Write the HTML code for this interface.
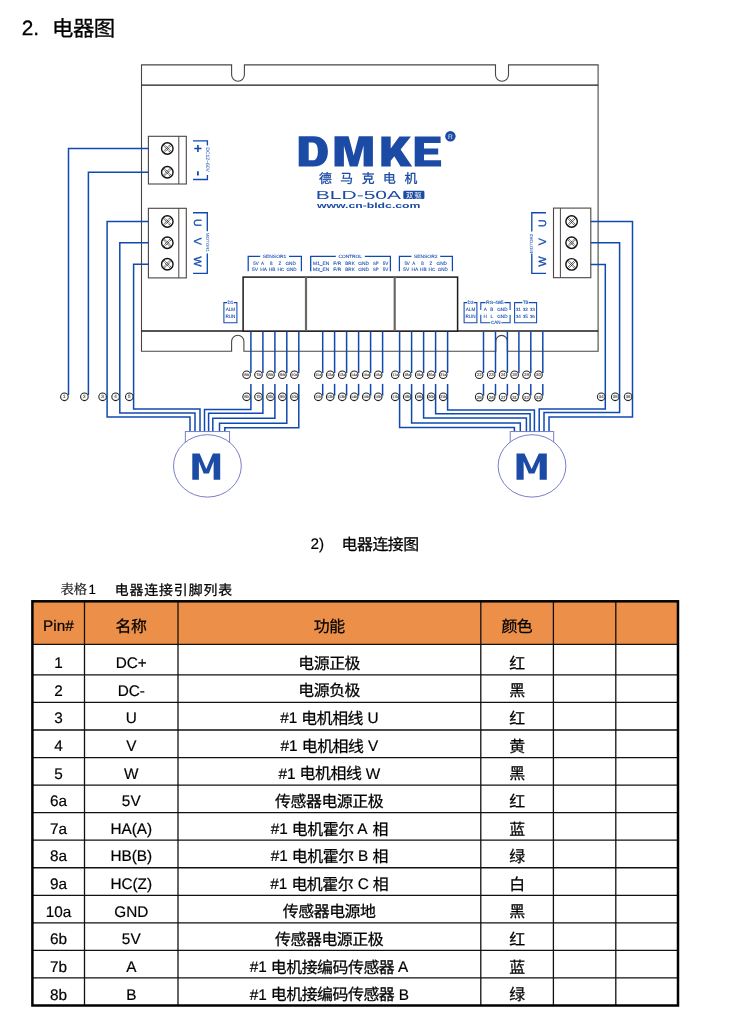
<!DOCTYPE html>
<html lang="zh"><head><meta charset="utf-8"><title>电器图</title>
<style>
html,body{margin:0;padding:0;background:#fff}
body{width:750px;height:1024px;overflow:hidden;font-family:"Liberation Sans","Noto Sans CJK SC",sans-serif}
svg{display:block;position:absolute;left:0;top:0;will-change:transform}
svg text{font-family:"Liberation Sans","Noto Sans CJK SC",sans-serif;text-rendering:geometricPrecision}
</style></head><body>
<svg width="750" height="1024" viewBox="0 0 750 1024">
<rect width="750" height="1024" fill="#fff"/>
<text x="21.80" y="34.70" font-size="20.8" fill="#000" stroke="#000" stroke-width="0.3" xml:space="preserve">2.</text>
<text x="52.00" y="35.60" font-size="21.4" letter-spacing="-0.5" fill="#000" stroke="#000" stroke-width="0.3">电器图</text>
<path d="M141.5 64.9 H231.6 V74.8 A6.4 6.4 0 0 0 244.4 74.8 V64.9 H495.5 V74.7 A6.5 6.5 0 0 0 508.5 74.7 V64.9 H598.1 V351.2 H507.4 V341.2 A5.8 5.8 0 0 0 495.8 341.2 V351.2 H243.9 V341.4 A6.15 6.15 0 0 0 231.6 341.4 V351.2 H141.5 Z" fill="none" stroke="#4b4542" stroke-width="1.1" stroke-linejoin="miter"/>
<line x1="141.50" y1="85.20" x2="598.10" y2="85.20" stroke="#1c1a1a" stroke-width="1.2" />
<line x1="141.50" y1="331.10" x2="598.10" y2="331.10" stroke="#1c1a1a" stroke-width="1.5" />
<rect x="148.4" y="136.3" width="37.9" height="47.7" fill="#fff" stroke="#4b4542" stroke-width="1.1"/>
<line x1="178.80" y1="136.30" x2="178.80" y2="184.00" stroke="#4b4542" stroke-width="1.0" />
<circle cx="167.3" cy="148.5" r="5.75" fill="#fff" stroke="#111" stroke-width="1.4"/>
<path d="M163.89 144.11 L171.69 151.91M162.91 145.09 L170.71 152.89M162.91 151.91 L170.71 144.11M163.89 152.89 L171.69 145.09" stroke="#222" stroke-width="0.75" fill="none" stroke-dasharray="2.4 0.4"/>
<circle cx="167.3" cy="172.2" r="5.75" fill="#fff" stroke="#111" stroke-width="1.4"/>
<path d="M163.89 167.81 L171.69 175.61M162.91 168.79 L170.71 176.59M162.91 175.61 L170.71 167.81M163.89 176.59 L171.69 168.79" stroke="#222" stroke-width="0.75" fill="none" stroke-dasharray="2.4 0.4"/>
<rect x="148.4" y="208.3" width="37.9" height="69.6" fill="#fff" stroke="#4b4542" stroke-width="1.1"/>
<line x1="178.80" y1="208.30" x2="178.80" y2="277.90" stroke="#4b4542" stroke-width="1.0" />
<circle cx="167.3" cy="221.5" r="5.75" fill="#fff" stroke="#111" stroke-width="1.4"/>
<path d="M163.89 217.11 L171.69 224.91M162.91 218.09 L170.71 225.89M162.91 224.91 L170.71 217.11M163.89 225.89 L171.69 218.09" stroke="#222" stroke-width="0.75" fill="none" stroke-dasharray="2.4 0.4"/>
<circle cx="167.3" cy="242.8" r="5.75" fill="#fff" stroke="#111" stroke-width="1.4"/>
<path d="M163.89 238.41 L171.69 246.21M162.91 239.39 L170.71 247.19M162.91 246.21 L170.71 238.41M163.89 247.19 L171.69 239.39" stroke="#222" stroke-width="0.75" fill="none" stroke-dasharray="2.4 0.4"/>
<circle cx="167.3" cy="264.2" r="5.75" fill="#fff" stroke="#111" stroke-width="1.4"/>
<path d="M163.89 259.81 L171.69 267.61M162.91 260.79 L170.71 268.59M162.91 267.61 L170.71 259.81M163.89 268.59 L171.69 260.79" stroke="#222" stroke-width="0.75" fill="none" stroke-dasharray="2.4 0.4"/>
<rect x="553.5" y="208.1" width="37.3" height="69.6" fill="#fff" stroke="#4b4542" stroke-width="1.1"/>
<line x1="560.40" y1="208.10" x2="560.40" y2="277.70" stroke="#4b4542" stroke-width="1.0" />
<circle cx="571.6" cy="221.5" r="5.75" fill="#fff" stroke="#111" stroke-width="1.4"/>
<path d="M568.19 217.11 L575.99 224.91M567.21 218.09 L575.01 225.89M567.21 224.91 L575.01 217.11M568.19 225.89 L575.99 218.09" stroke="#222" stroke-width="0.75" fill="none" stroke-dasharray="2.4 0.4"/>
<circle cx="571.6" cy="242.8" r="5.75" fill="#fff" stroke="#111" stroke-width="1.4"/>
<path d="M568.19 238.41 L575.99 246.21M567.21 239.39 L575.01 247.19M567.21 246.21 L575.01 238.41M568.19 247.19 L575.99 239.39" stroke="#222" stroke-width="0.75" fill="none" stroke-dasharray="2.4 0.4"/>
<circle cx="571.6" cy="264.4" r="5.75" fill="#fff" stroke="#111" stroke-width="1.4"/>
<path d="M568.19 260.01 L575.99 267.81M567.21 260.99 L575.01 268.79M567.21 267.81 L575.01 260.01M568.19 268.79 L575.99 260.99" stroke="#222" stroke-width="0.75" fill="none" stroke-dasharray="2.4 0.4"/>
<path d="M193.0 140.8 H207.4 V145.6 M207.4 175.0 V179.5 H193.0" fill="none" stroke="#1049b0" stroke-width="1.35" />
<path d="M193.0 212.7 H207.3 V231.2 M207.3 253.6 V273.4 H193.0" fill="none" stroke="#1049b0" stroke-width="1.35" />
<path d="M546 212.7 H531.8 V231.4 M531.8 253.6 V273.4 H546" fill="none" stroke="#1049b0" stroke-width="1.35" />
<path d="M194.3 148.5 H201.5 M197.9 145.1 V151.9" fill="none" stroke="#1049b0" stroke-width="1.6" />
<path d="M197.9 171.3 V175.4" fill="none" stroke="#1049b0" stroke-width="1.8" />
<text transform="translate(205.50 159.60) rotate(90)" text-anchor="middle" font-size="5.0" fill="#1049b0" >DC12~60V</text>
<text transform="translate(193.50 222.90) rotate(90)" text-anchor="middle" font-size="10.6" fill="#1049b0" stroke="#1049b0" stroke-width="0.3">U</text>
<text transform="translate(193.50 241.40) rotate(90)" text-anchor="middle" font-size="10.6" fill="#1049b0" stroke="#1049b0" stroke-width="0.3">V</text>
<text transform="translate(193.50 261.50) rotate(90)" text-anchor="middle" font-size="10.6" fill="#1049b0" stroke="#1049b0" stroke-width="0.3">W</text>
<text transform="translate(205.60 242.40) rotate(90)" text-anchor="middle" font-size="4.5" fill="#1049b0" >MOTOR1</text>
<text transform="translate(545.50 223.10) rotate(-90)" text-anchor="middle" font-size="10.6" fill="#1049b0" stroke="#1049b0" stroke-width="0.3">U</text>
<text transform="translate(545.50 241.60) rotate(-90)" text-anchor="middle" font-size="10.6" fill="#1049b0" stroke="#1049b0" stroke-width="0.3">V</text>
<text transform="translate(545.50 261.60) rotate(-90)" text-anchor="middle" font-size="10.6" fill="#1049b0" stroke="#1049b0" stroke-width="0.3">W</text>
<text transform="translate(533.30 243.40) rotate(-90)" text-anchor="middle" font-size="4.5" fill="#1049b0" >MOTOR2</text>
<path fill="#1b4ba5" fill-rule="evenodd" d="M298.7 136.3H313.5C323 136.3 327.9 142.5 327.9 151.45C327.9 160.4 323 166.6 313.5 166.6H298.7ZM308.7 142.6V160.3H312.5C316.5 160.3 317.9 156.5 317.9 151.45C317.9 146.4 316.5 142.6 312.5 142.6Z"/>
<path fill="#1b4ba5" d="M334.5 166.5V136.3H348.6L353.7 155.5L358.8 136.3H372.9V166.5H363.6V145.5L357.6 166.5H349.8L343.9 145.5V166.5Z"/>
<path fill="#1b4ba5" d="M381.3 136.5H390.7V148.6L399.4 136.5H411L400.6 149.6L412.2 166.6H400.6L394.3 156.3L390.7 160.7V166.6H381.3Z"/>
<path fill="#1b4ba5" d="M414.7 136.5H440.6V142.9H424V148.5H438.2V154.5H424V160.3H441.1V166.6H414.7Z"/>
<circle cx="450.4" cy="136.3" r="5.2" fill="#1b4ba5"/>
<text x="450.5" y="138.7" font-size="6.6" fill="#e4e8f4" text-anchor="middle">R</text>
<text x="319.00" y="182.90" font-size="12.8" letter-spacing="8.55" fill="#1b4ba5" stroke="#1b4ba5" stroke-width="0.3">德马克电机</text>
<text x="315.8" y="198.9" font-size="11.8" fill="#1b4ba5" textLength="85.2" lengthAdjust="spacingAndGlyphs">BLD-50A</text>
<rect x="403.3" y="190.7" width="21.1" height="8.3" rx="1.3" fill="#1b4ba5"/>
<text x="405.90" y="197.60" font-size="7.4" letter-spacing="1" fill="#fff">双驱</text>
<text x="316.9" y="207.7" font-size="7.6" font-weight="bold" fill="#1b4ba5" textLength="103.6" lengthAdjust="spacingAndGlyphs">www.cn-bldc.com</text>
<rect x="243.1" y="277.1" width="214.5" height="54" fill="#fff" stroke="#1c1a1a" stroke-width="1.5"/>
<line x1="306.00" y1="277.10" x2="306.00" y2="331.10" stroke="#6e6865" stroke-width="2.2" />
<line x1="394.70" y1="277.10" x2="394.70" y2="331.10" stroke="#6e6865" stroke-width="2.2" />
<path d="M248.2 271.2 V256.3 H260.2 M289.0 256.3 H301.4 V271.2" fill="none" stroke="#1049b0" stroke-width="1.25" />
<text x="262.80" y="257.90" font-size="4.7" fill="#1049b0" stroke="#1049b0" stroke-width="0.08" textLength="23.4" lengthAdjust="spacingAndGlyphs">SENSOR1</text>
<text x="253.20" y="264.85" font-size="4.6" fill="#1049b0" stroke="#1049b0" stroke-width="0.08" textLength="5.4" lengthAdjust="spacingAndGlyphs">5V</text>
<text x="261.00" y="264.85" font-size="4.6" fill="#1049b0" stroke="#1049b0" stroke-width="0.08" textLength="3.0" lengthAdjust="spacingAndGlyphs">A</text>
<text x="270.00" y="264.85" font-size="4.6" fill="#1049b0" stroke="#1049b0" stroke-width="0.08" textLength="2.6" lengthAdjust="spacingAndGlyphs">B</text>
<text x="278.40" y="264.85" font-size="4.6" fill="#1049b0" stroke="#1049b0" stroke-width="0.08" textLength="2.6" lengthAdjust="spacingAndGlyphs">Z</text>
<text x="285.40" y="264.85" font-size="4.6" fill="#1049b0" stroke="#1049b0" stroke-width="0.08" textLength="10.4" lengthAdjust="spacingAndGlyphs">GND</text>
<text x="252.00" y="271.25" font-size="4.6" fill="#1049b0" stroke="#1049b0" stroke-width="0.08" textLength="6.0" lengthAdjust="spacingAndGlyphs">5V</text>
<text x="260.20" y="271.25" font-size="4.6" fill="#1049b0" stroke="#1049b0" stroke-width="0.08" textLength="6.8" lengthAdjust="spacingAndGlyphs">HA</text>
<text x="268.80" y="271.25" font-size="4.6" fill="#1049b0" stroke="#1049b0" stroke-width="0.08" textLength="6.6" lengthAdjust="spacingAndGlyphs">HB</text>
<text x="277.40" y="271.25" font-size="4.6" fill="#1049b0" stroke="#1049b0" stroke-width="0.08" textLength="6.8" lengthAdjust="spacingAndGlyphs">HC</text>
<text x="286.60" y="271.25" font-size="4.6" fill="#1049b0" stroke="#1049b0" stroke-width="0.08" textLength="10.0" lengthAdjust="spacingAndGlyphs">GND</text>
<path d="M310.7 271.2 V256.3 H335.8 M364.8 256.3 H390.4 V271.2" fill="none" stroke="#1049b0" stroke-width="1.25" />
<text x="338.40" y="257.90" font-size="4.7" fill="#1049b0" stroke="#1049b0" stroke-width="0.08" textLength="23.6" lengthAdjust="spacingAndGlyphs">CONTROL</text>
<text x="313.10" y="264.85" font-size="4.6" fill="#1049b0" stroke="#1049b0" stroke-width="0.08" textLength="16.2" lengthAdjust="spacingAndGlyphs">M1_EN</text>
<text x="333.30" y="264.85" font-size="4.6" fill="#1049b0" stroke="#1049b0" stroke-width="0.08" textLength="8.0" lengthAdjust="spacingAndGlyphs">F/R</text>
<text x="345.30" y="264.85" font-size="4.6" fill="#1049b0" stroke="#1049b0" stroke-width="0.08" textLength="9.4" lengthAdjust="spacingAndGlyphs">BRK</text>
<text x="358.30" y="264.85" font-size="4.6" fill="#1049b0" stroke="#1049b0" stroke-width="0.08" textLength="10.7" lengthAdjust="spacingAndGlyphs">GND</text>
<text x="373.00" y="264.85" font-size="4.6" fill="#1049b0" stroke="#1049b0" stroke-width="0.08" textLength="5.7" lengthAdjust="spacingAndGlyphs">SP</text>
<text x="382.70" y="264.85" font-size="4.6" fill="#1049b0" stroke="#1049b0" stroke-width="0.08" textLength="5.6" lengthAdjust="spacingAndGlyphs">5V</text>
<text x="313.10" y="271.25" font-size="4.6" fill="#1049b0" stroke="#1049b0" stroke-width="0.08" textLength="16.2" lengthAdjust="spacingAndGlyphs">M2_EN</text>
<text x="333.30" y="271.25" font-size="4.6" fill="#1049b0" stroke="#1049b0" stroke-width="0.08" textLength="8.0" lengthAdjust="spacingAndGlyphs">F/R</text>
<text x="345.30" y="271.25" font-size="4.6" fill="#1049b0" stroke="#1049b0" stroke-width="0.08" textLength="9.4" lengthAdjust="spacingAndGlyphs">BRK</text>
<text x="358.30" y="271.25" font-size="4.6" fill="#1049b0" stroke="#1049b0" stroke-width="0.08" textLength="10.7" lengthAdjust="spacingAndGlyphs">GND</text>
<text x="373.00" y="271.25" font-size="4.6" fill="#1049b0" stroke="#1049b0" stroke-width="0.08" textLength="5.7" lengthAdjust="spacingAndGlyphs">SP</text>
<text x="382.70" y="271.25" font-size="4.6" fill="#1049b0" stroke="#1049b0" stroke-width="0.08" textLength="5.6" lengthAdjust="spacingAndGlyphs">5V</text>
<path d="M399.4 271.2 V256.3 H411.4 M440.2 256.3 H452.4 V271.2" fill="none" stroke="#1049b0" stroke-width="1.25" />
<text x="414.00" y="257.90" font-size="4.7" fill="#1049b0" stroke="#1049b0" stroke-width="0.08" textLength="23.4" lengthAdjust="spacingAndGlyphs">SENSOR2</text>
<text x="404.40" y="264.85" font-size="4.6" fill="#1049b0" stroke="#1049b0" stroke-width="0.08" textLength="5.4" lengthAdjust="spacingAndGlyphs">5V</text>
<text x="412.20" y="264.85" font-size="4.6" fill="#1049b0" stroke="#1049b0" stroke-width="0.08" textLength="3.0" lengthAdjust="spacingAndGlyphs">A</text>
<text x="421.20" y="264.85" font-size="4.6" fill="#1049b0" stroke="#1049b0" stroke-width="0.08" textLength="2.6" lengthAdjust="spacingAndGlyphs">B</text>
<text x="429.60" y="264.85" font-size="4.6" fill="#1049b0" stroke="#1049b0" stroke-width="0.08" textLength="2.6" lengthAdjust="spacingAndGlyphs">Z</text>
<text x="436.60" y="264.85" font-size="4.6" fill="#1049b0" stroke="#1049b0" stroke-width="0.08" textLength="10.4" lengthAdjust="spacingAndGlyphs">GND</text>
<text x="403.20" y="271.25" font-size="4.6" fill="#1049b0" stroke="#1049b0" stroke-width="0.08" textLength="6.0" lengthAdjust="spacingAndGlyphs">5V</text>
<text x="411.40" y="271.25" font-size="4.6" fill="#1049b0" stroke="#1049b0" stroke-width="0.08" textLength="6.8" lengthAdjust="spacingAndGlyphs">HA</text>
<text x="420.00" y="271.25" font-size="4.6" fill="#1049b0" stroke="#1049b0" stroke-width="0.08" textLength="6.6" lengthAdjust="spacingAndGlyphs">HB</text>
<text x="428.60" y="271.25" font-size="4.6" fill="#1049b0" stroke="#1049b0" stroke-width="0.08" textLength="6.8" lengthAdjust="spacingAndGlyphs">HC</text>
<text x="437.80" y="271.25" font-size="4.6" fill="#1049b0" stroke="#1049b0" stroke-width="0.08" textLength="10.0" lengthAdjust="spacingAndGlyphs">GND</text>
<path d="M227.0 302.6 H223.9 V322.7 H236.9 V302.6 H233.8" fill="none" stroke="#1049b0" stroke-width="1.05" />
<text x="227.46" y="304.20" font-size="4.6" fill="#1049b0" stroke="#1049b0" stroke-width="0.08" textLength="5.9" lengthAdjust="spacingAndGlyphs">D1</text>
<text x="230.40" y="310.85" font-size="4.6" text-anchor="middle" fill="#1049b0" stroke="#1049b0" stroke-width="0.08">ALM</text>
<text x="230.40" y="317.55" font-size="4.6" text-anchor="middle" fill="#1049b0" stroke="#1049b0" stroke-width="0.08">RUN</text>
<path d="M467.1 302.6 H464.1 V322.7 H476.9 V302.6 H473.9" fill="none" stroke="#1049b0" stroke-width="1.05" />
<text x="467.56" y="304.20" font-size="4.6" fill="#1049b0" stroke="#1049b0" stroke-width="0.08" textLength="5.9" lengthAdjust="spacingAndGlyphs">D2</text>
<text x="470.50" y="310.85" font-size="4.6" text-anchor="middle" fill="#1049b0" stroke="#1049b0" stroke-width="0.08">ALM</text>
<text x="470.50" y="317.55" font-size="4.6" text-anchor="middle" fill="#1049b0" stroke="#1049b0" stroke-width="0.08">RUN</text>
<path d="M480.8 309.9 V302.6 H485.5 M504.5 302.6 H510.1 V309.9" fill="none" stroke="#1049b0" stroke-width="1.05" />
<path d="M480.8 314.7 V322.7 H490.3 M501.3 322.7 H510.1 V314.7" fill="none" stroke="#1049b0" stroke-width="1.05" />
<text x="490.90" y="324.30" font-size="4.6" fill="#1049b0" stroke="#1049b0" stroke-width="0.08" textLength="9.6" lengthAdjust="spacingAndGlyphs">CAN</text>
<text x="486.10" y="304.20" font-size="4.6" fill="#1049b0" stroke="#1049b0" stroke-width="0.08" textLength="17.6" lengthAdjust="spacingAndGlyphs">RS-485</text>
<text x="485.30" y="310.85" font-size="4.6" text-anchor="middle" fill="#1049b0" stroke="#1049b0" stroke-width="0.08">A</text>
<text x="491.90" y="310.85" font-size="4.6" text-anchor="middle" fill="#1049b0" stroke="#1049b0" stroke-width="0.08">B</text>
<text x="502.40" y="310.85" font-size="4.6" text-anchor="middle" fill="#1049b0" stroke="#1049b0" stroke-width="0.08">GND</text>
<text x="485.20" y="317.55" font-size="4.6" text-anchor="middle" fill="#1049b0" stroke="#1049b0" stroke-width="0.08">H</text>
<text x="491.90" y="317.55" font-size="4.6" text-anchor="middle" fill="#1049b0" stroke="#1049b0" stroke-width="0.08">L</text>
<text x="502.40" y="317.55" font-size="4.6" text-anchor="middle" fill="#1049b0" stroke="#1049b0" stroke-width="0.08">GND</text>
<path d="M522.4 302.6 H514.6 V322.7 H536.6 V302.6 H528.8" fill="none" stroke="#1049b0" stroke-width="1.05" />
<text x="522.90" y="304.20" font-size="4.6" fill="#1049b0" stroke="#1049b0" stroke-width="0.08" textLength="5.4" lengthAdjust="spacingAndGlyphs">TB</text>
<text x="518.30" y="310.85" font-size="4.6" text-anchor="middle" fill="#1049b0" stroke="#1049b0" stroke-width="0.08">31</text>
<text x="525.30" y="310.85" font-size="4.6" text-anchor="middle" fill="#1049b0" stroke="#1049b0" stroke-width="0.08">32</text>
<text x="532.30" y="310.85" font-size="4.6" text-anchor="middle" fill="#1049b0" stroke="#1049b0" stroke-width="0.08">33</text>
<text x="518.30" y="317.55" font-size="4.6" text-anchor="middle" fill="#1049b0" stroke="#1049b0" stroke-width="0.08">34</text>
<text x="525.30" y="317.55" font-size="4.6" text-anchor="middle" fill="#1049b0" stroke="#1049b0" stroke-width="0.08">35</text>
<text x="532.30" y="317.55" font-size="4.6" text-anchor="middle" fill="#1049b0" stroke="#1049b0" stroke-width="0.08">36</text>
<path d="M149 148.5 H68.5 V395" fill="none" stroke="#1049b0" stroke-width="1.5" stroke-linejoin="miter"/>
<path d="M149 172.2 H88.4 V395" fill="none" stroke="#1049b0" stroke-width="1.5" stroke-linejoin="miter"/>
<path d="M149 221.5 H107.1 V416.9 H190.0 V431.6" fill="none" stroke="#1049b0" stroke-width="1.5" stroke-linejoin="miter"/>
<path d="M149 242.8 H119.8 V412.9 H195.0 V431.6" fill="none" stroke="#1049b0" stroke-width="1.5" stroke-linejoin="miter"/>
<path d="M149 264.2 H133.6 V409.0 H200.0 V431.6" fill="none" stroke="#1049b0" stroke-width="1.5" stroke-linejoin="miter"/>
<path d="M250.9 331.5 V373" fill="none" stroke="#1049b0" stroke-width="1.5" stroke-linejoin="miter"/>
<path d="M250.9 383.9 V409.5 H204.5 V431.6" fill="none" stroke="#1049b0" stroke-width="1.5" stroke-linejoin="miter"/>
<path d="M262.9 331.5 V373" fill="none" stroke="#1049b0" stroke-width="1.5" stroke-linejoin="miter"/>
<path d="M262.9 383.9 V413.3 H208.6 V431.6" fill="none" stroke="#1049b0" stroke-width="1.5" stroke-linejoin="miter"/>
<path d="M274.9 331.5 V373" fill="none" stroke="#1049b0" stroke-width="1.5" stroke-linejoin="miter"/>
<path d="M274.9 383.9 V418.2 H212.8 V431.6" fill="none" stroke="#1049b0" stroke-width="1.5" stroke-linejoin="miter"/>
<path d="M286.8 331.5 V373" fill="none" stroke="#1049b0" stroke-width="1.5" stroke-linejoin="miter"/>
<path d="M286.8 383.9 V423.2 H219.5 V431.6" fill="none" stroke="#1049b0" stroke-width="1.5" stroke-linejoin="miter"/>
<path d="M298.8 331.5 V373" fill="none" stroke="#1049b0" stroke-width="1.5" stroke-linejoin="miter"/>
<path d="M298.8 383.9 V427.8 H224.8 V431.6" fill="none" stroke="#1049b0" stroke-width="1.5" stroke-linejoin="miter"/>
<path d="M322.7 331.5 V373" fill="none" stroke="#1049b0" stroke-width="1.5" stroke-linejoin="miter"/>
<path d="M322.7 383.9 V395.6" fill="none" stroke="#1049b0" stroke-width="1.5" stroke-linejoin="miter"/>
<path d="M334.6 331.5 V373" fill="none" stroke="#1049b0" stroke-width="1.5" stroke-linejoin="miter"/>
<path d="M334.6 383.9 V395.6" fill="none" stroke="#1049b0" stroke-width="1.5" stroke-linejoin="miter"/>
<path d="M346.6 331.5 V373" fill="none" stroke="#1049b0" stroke-width="1.5" stroke-linejoin="miter"/>
<path d="M346.6 383.9 V395.6" fill="none" stroke="#1049b0" stroke-width="1.5" stroke-linejoin="miter"/>
<path d="M358.6 331.5 V373" fill="none" stroke="#1049b0" stroke-width="1.5" stroke-linejoin="miter"/>
<path d="M358.6 383.9 V395.6" fill="none" stroke="#1049b0" stroke-width="1.5" stroke-linejoin="miter"/>
<path d="M370.6 331.5 V373" fill="none" stroke="#1049b0" stroke-width="1.5" stroke-linejoin="miter"/>
<path d="M370.6 383.9 V395.6" fill="none" stroke="#1049b0" stroke-width="1.5" stroke-linejoin="miter"/>
<path d="M382.6 331.5 V373" fill="none" stroke="#1049b0" stroke-width="1.5" stroke-linejoin="miter"/>
<path d="M382.6 383.9 V395.6" fill="none" stroke="#1049b0" stroke-width="1.5" stroke-linejoin="miter"/>
<path d="M399.6 331.5 V373" fill="none" stroke="#1049b0" stroke-width="1.5" stroke-linejoin="miter"/>
<path d="M399.6 383.9 V427.6 H514.4 V431.6" fill="none" stroke="#1049b0" stroke-width="1.5" stroke-linejoin="miter"/>
<path d="M411.6 331.5 V373" fill="none" stroke="#1049b0" stroke-width="1.5" stroke-linejoin="miter"/>
<path d="M411.6 383.9 V423.1 H520.3 V431.6" fill="none" stroke="#1049b0" stroke-width="1.5" stroke-linejoin="miter"/>
<path d="M423.6 331.5 V373" fill="none" stroke="#1049b0" stroke-width="1.5" stroke-linejoin="miter"/>
<path d="M423.6 383.9 V418.0 H526.4 V431.6" fill="none" stroke="#1049b0" stroke-width="1.5" stroke-linejoin="miter"/>
<path d="M435.6 331.5 V373" fill="none" stroke="#1049b0" stroke-width="1.5" stroke-linejoin="miter"/>
<path d="M435.6 383.9 V413.7 H530.1 V431.6" fill="none" stroke="#1049b0" stroke-width="1.5" stroke-linejoin="miter"/>
<path d="M447.6 331.5 V373" fill="none" stroke="#1049b0" stroke-width="1.5" stroke-linejoin="miter"/>
<path d="M447.6 383.9 V410.0 H534.4 V431.6" fill="none" stroke="#1049b0" stroke-width="1.5" stroke-linejoin="miter"/>
<path d="M483.5 331.5 V373" fill="none" stroke="#1049b0" stroke-width="1.5" stroke-linejoin="miter"/>
<path d="M483.5 383.9 V395.6" fill="none" stroke="#1049b0" stroke-width="1.5" stroke-linejoin="miter"/>
<path d="M495.5 331.5 V373" fill="none" stroke="#1049b0" stroke-width="1.5" stroke-linejoin="miter"/>
<path d="M495.5 383.9 V395.6" fill="none" stroke="#1049b0" stroke-width="1.5" stroke-linejoin="miter"/>
<path d="M507.4 331.5 V373" fill="none" stroke="#1049b0" stroke-width="1.5" stroke-linejoin="miter"/>
<path d="M507.4 383.9 V395.6" fill="none" stroke="#1049b0" stroke-width="1.5" stroke-linejoin="miter"/>
<path d="M518.9 331.5 V373" fill="none" stroke="#1049b0" stroke-width="1.5" stroke-linejoin="miter"/>
<path d="M518.9 383.9 V395.6" fill="none" stroke="#1049b0" stroke-width="1.5" stroke-linejoin="miter"/>
<path d="M530.8 331.5 V373" fill="none" stroke="#1049b0" stroke-width="1.5" stroke-linejoin="miter"/>
<path d="M530.8 383.9 V395.6" fill="none" stroke="#1049b0" stroke-width="1.5" stroke-linejoin="miter"/>
<path d="M542.8 331.5 V373" fill="none" stroke="#1049b0" stroke-width="1.5" stroke-linejoin="miter"/>
<path d="M542.8 383.9 V395.6" fill="none" stroke="#1049b0" stroke-width="1.5" stroke-linejoin="miter"/>
<path d="M590.8 264.4 H605.3 V408.9 H539.2 V431.6" fill="none" stroke="#1049b0" stroke-width="1.5" stroke-linejoin="miter"/>
<path d="M590.8 242.8 H619.6 V412.6 H544.0 V431.6" fill="none" stroke="#1049b0" stroke-width="1.5" stroke-linejoin="miter"/>
<path d="M590.8 221.6 H632.5 V416.9 H549.0 V431.6" fill="none" stroke="#1049b0" stroke-width="1.5" stroke-linejoin="miter"/>
<circle cx="64.4" cy="396.8" r="3.8" fill="#fafafa" stroke="#222" stroke-width="1.05"/>
<text x="64.40" y="398.35" font-size="4.6" text-anchor="middle" fill="#555" stroke="#555" stroke-width="0.15">1</text>
<circle cx="84.4" cy="396.8" r="3.8" fill="#fafafa" stroke="#222" stroke-width="1.05"/>
<text x="84.40" y="398.35" font-size="4.6" text-anchor="middle" fill="#555" stroke="#555" stroke-width="0.15">2</text>
<circle cx="102.6" cy="396.8" r="3.8" fill="#fafafa" stroke="#222" stroke-width="1.05"/>
<text x="102.60" y="398.35" font-size="4.6" text-anchor="middle" fill="#555" stroke="#555" stroke-width="0.15">3</text>
<circle cx="115.6" cy="396.8" r="3.8" fill="#fafafa" stroke="#222" stroke-width="1.05"/>
<text x="115.60" y="398.35" font-size="4.6" text-anchor="middle" fill="#555" stroke="#555" stroke-width="0.15">4</text>
<circle cx="129.3" cy="396.8" r="3.8" fill="#fafafa" stroke="#222" stroke-width="1.05"/>
<text x="129.30" y="398.35" font-size="4.6" text-anchor="middle" fill="#555" stroke="#555" stroke-width="0.15">5</text>
<circle cx="246.6" cy="374.7" r="3.8" fill="#fafafa" stroke="#222" stroke-width="1.05"/>
<text x="246.55" y="376.25" font-size="4.3" text-anchor="middle" fill="#555" stroke="#555" stroke-width="0.15">6a</text>
<circle cx="246.6" cy="396.8" r="3.8" fill="#fafafa" stroke="#222" stroke-width="1.05"/>
<text x="246.55" y="398.35" font-size="4.3" text-anchor="middle" fill="#555" stroke="#555" stroke-width="0.15">6b</text>
<circle cx="258.5" cy="374.7" r="3.8" fill="#fafafa" stroke="#222" stroke-width="1.05"/>
<text x="258.55" y="376.25" font-size="4.3" text-anchor="middle" fill="#555" stroke="#555" stroke-width="0.15">7a</text>
<circle cx="258.5" cy="396.8" r="3.8" fill="#fafafa" stroke="#222" stroke-width="1.05"/>
<text x="258.55" y="398.35" font-size="4.3" text-anchor="middle" fill="#555" stroke="#555" stroke-width="0.15">7b</text>
<circle cx="270.5" cy="374.7" r="3.8" fill="#fafafa" stroke="#222" stroke-width="1.05"/>
<text x="270.55" y="376.25" font-size="4.3" text-anchor="middle" fill="#555" stroke="#555" stroke-width="0.15">8a</text>
<circle cx="270.5" cy="396.8" r="3.8" fill="#fafafa" stroke="#222" stroke-width="1.05"/>
<text x="270.55" y="398.35" font-size="4.3" text-anchor="middle" fill="#555" stroke="#555" stroke-width="0.15">8b</text>
<circle cx="282.4" cy="374.7" r="3.8" fill="#fafafa" stroke="#222" stroke-width="1.05"/>
<text x="282.45" y="376.25" font-size="4.3" text-anchor="middle" fill="#555" stroke="#555" stroke-width="0.15">9a</text>
<circle cx="282.4" cy="396.8" r="3.8" fill="#fafafa" stroke="#222" stroke-width="1.05"/>
<text x="282.45" y="398.35" font-size="4.3" text-anchor="middle" fill="#555" stroke="#555" stroke-width="0.15">9b</text>
<circle cx="294.4" cy="374.7" r="3.8" fill="#fafafa" stroke="#222" stroke-width="1.05"/>
<text x="294.45" y="376.25" font-size="3.7" text-anchor="middle" fill="#555" stroke="#555" stroke-width="0.15">10a</text>
<circle cx="294.4" cy="396.8" r="3.8" fill="#fafafa" stroke="#222" stroke-width="1.05"/>
<text x="294.45" y="398.35" font-size="3.7" text-anchor="middle" fill="#555" stroke="#555" stroke-width="0.15">10b</text>
<circle cx="318.3" cy="374.7" r="3.8" fill="#fafafa" stroke="#222" stroke-width="1.05"/>
<text x="318.30" y="376.25" font-size="3.7" text-anchor="middle" fill="#555" stroke="#555" stroke-width="0.15">11a</text>
<circle cx="318.3" cy="396.8" r="3.8" fill="#fafafa" stroke="#222" stroke-width="1.05"/>
<text x="318.30" y="398.35" font-size="3.7" text-anchor="middle" fill="#555" stroke="#555" stroke-width="0.15">11b</text>
<circle cx="330.2" cy="374.7" r="3.8" fill="#fafafa" stroke="#222" stroke-width="1.05"/>
<text x="330.20" y="376.25" font-size="3.7" text-anchor="middle" fill="#555" stroke="#555" stroke-width="0.15">12a</text>
<circle cx="330.2" cy="396.8" r="3.8" fill="#fafafa" stroke="#222" stroke-width="1.05"/>
<text x="330.20" y="398.35" font-size="3.7" text-anchor="middle" fill="#555" stroke="#555" stroke-width="0.15">12b</text>
<circle cx="342.2" cy="374.7" r="3.8" fill="#fafafa" stroke="#222" stroke-width="1.05"/>
<text x="342.20" y="376.25" font-size="3.7" text-anchor="middle" fill="#555" stroke="#555" stroke-width="0.15">13a</text>
<circle cx="342.2" cy="396.8" r="3.8" fill="#fafafa" stroke="#222" stroke-width="1.05"/>
<text x="342.20" y="398.35" font-size="3.7" text-anchor="middle" fill="#555" stroke="#555" stroke-width="0.15">13b</text>
<circle cx="354.2" cy="374.7" r="3.8" fill="#fafafa" stroke="#222" stroke-width="1.05"/>
<text x="354.20" y="376.25" font-size="3.7" text-anchor="middle" fill="#555" stroke="#555" stroke-width="0.15">14a</text>
<circle cx="354.2" cy="396.8" r="3.8" fill="#fafafa" stroke="#222" stroke-width="1.05"/>
<text x="354.20" y="398.35" font-size="3.7" text-anchor="middle" fill="#555" stroke="#555" stroke-width="0.15">14b</text>
<circle cx="366.2" cy="374.7" r="3.8" fill="#fafafa" stroke="#222" stroke-width="1.05"/>
<text x="366.20" y="376.25" font-size="3.7" text-anchor="middle" fill="#555" stroke="#555" stroke-width="0.15">15a</text>
<circle cx="366.2" cy="396.8" r="3.8" fill="#fafafa" stroke="#222" stroke-width="1.05"/>
<text x="366.20" y="398.35" font-size="3.7" text-anchor="middle" fill="#555" stroke="#555" stroke-width="0.15">15b</text>
<circle cx="378.2" cy="374.7" r="3.8" fill="#fafafa" stroke="#222" stroke-width="1.05"/>
<text x="378.20" y="376.25" font-size="3.7" text-anchor="middle" fill="#555" stroke="#555" stroke-width="0.15">16a</text>
<circle cx="378.2" cy="396.8" r="3.8" fill="#fafafa" stroke="#222" stroke-width="1.05"/>
<text x="378.20" y="398.35" font-size="3.7" text-anchor="middle" fill="#555" stroke="#555" stroke-width="0.15">16b</text>
<circle cx="395.2" cy="374.7" r="3.8" fill="#fafafa" stroke="#222" stroke-width="1.05"/>
<text x="395.25" y="376.25" font-size="3.7" text-anchor="middle" fill="#555" stroke="#555" stroke-width="0.15">17a</text>
<circle cx="395.2" cy="396.8" r="3.8" fill="#fafafa" stroke="#222" stroke-width="1.05"/>
<text x="395.25" y="398.35" font-size="3.7" text-anchor="middle" fill="#555" stroke="#555" stroke-width="0.15">17b</text>
<circle cx="407.2" cy="374.7" r="3.8" fill="#fafafa" stroke="#222" stroke-width="1.05"/>
<text x="407.25" y="376.25" font-size="3.7" text-anchor="middle" fill="#555" stroke="#555" stroke-width="0.15">18a</text>
<circle cx="407.2" cy="396.8" r="3.8" fill="#fafafa" stroke="#222" stroke-width="1.05"/>
<text x="407.25" y="398.35" font-size="3.7" text-anchor="middle" fill="#555" stroke="#555" stroke-width="0.15">18b</text>
<circle cx="419.2" cy="374.7" r="3.8" fill="#fafafa" stroke="#222" stroke-width="1.05"/>
<text x="419.25" y="376.25" font-size="3.7" text-anchor="middle" fill="#555" stroke="#555" stroke-width="0.15">19a</text>
<circle cx="419.2" cy="396.8" r="3.8" fill="#fafafa" stroke="#222" stroke-width="1.05"/>
<text x="419.25" y="398.35" font-size="3.7" text-anchor="middle" fill="#555" stroke="#555" stroke-width="0.15">19b</text>
<circle cx="431.2" cy="374.7" r="3.8" fill="#fafafa" stroke="#222" stroke-width="1.05"/>
<text x="431.25" y="376.25" font-size="3.7" text-anchor="middle" fill="#555" stroke="#555" stroke-width="0.15">20a</text>
<circle cx="431.2" cy="396.8" r="3.8" fill="#fafafa" stroke="#222" stroke-width="1.05"/>
<text x="431.25" y="398.35" font-size="3.7" text-anchor="middle" fill="#555" stroke="#555" stroke-width="0.15">20b</text>
<circle cx="443.2" cy="374.7" r="3.8" fill="#fafafa" stroke="#222" stroke-width="1.05"/>
<text x="443.25" y="376.25" font-size="3.7" text-anchor="middle" fill="#555" stroke="#555" stroke-width="0.15">21a</text>
<circle cx="443.2" cy="396.8" r="3.8" fill="#fafafa" stroke="#222" stroke-width="1.05"/>
<text x="443.25" y="398.35" font-size="3.7" text-anchor="middle" fill="#555" stroke="#555" stroke-width="0.15">21b</text>
<circle cx="479.2" cy="374.7" r="3.8" fill="#fafafa" stroke="#222" stroke-width="1.05"/>
<text x="479.20" y="376.25" font-size="4.3" text-anchor="middle" fill="#555" stroke="#555" stroke-width="0.15">22</text>
<circle cx="479.2" cy="397.1" r="3.8" fill="#fafafa" stroke="#222" stroke-width="1.05"/>
<text x="479.20" y="398.65" font-size="4.3" text-anchor="middle" fill="#555" stroke="#555" stroke-width="0.15">25</text>
<circle cx="491.2" cy="374.7" r="3.8" fill="#fafafa" stroke="#222" stroke-width="1.05"/>
<text x="491.20" y="376.25" font-size="4.3" text-anchor="middle" fill="#555" stroke="#555" stroke-width="0.15">23</text>
<circle cx="491.2" cy="397.1" r="3.8" fill="#fafafa" stroke="#222" stroke-width="1.05"/>
<text x="491.20" y="398.65" font-size="4.3" text-anchor="middle" fill="#555" stroke="#555" stroke-width="0.15">26</text>
<circle cx="503.1" cy="374.7" r="3.8" fill="#fafafa" stroke="#222" stroke-width="1.05"/>
<text x="503.10" y="376.25" font-size="4.3" text-anchor="middle" fill="#555" stroke="#555" stroke-width="0.15">24</text>
<circle cx="503.1" cy="397.1" r="3.8" fill="#fafafa" stroke="#222" stroke-width="1.05"/>
<text x="503.10" y="398.65" font-size="4.3" text-anchor="middle" fill="#555" stroke="#555" stroke-width="0.15">27</text>
<circle cx="514.6" cy="374.7" r="3.8" fill="#fafafa" stroke="#222" stroke-width="1.05"/>
<text x="514.60" y="376.25" font-size="4.3" text-anchor="middle" fill="#555" stroke="#555" stroke-width="0.15">28</text>
<circle cx="514.6" cy="397.1" r="3.8" fill="#fafafa" stroke="#222" stroke-width="1.05"/>
<text x="514.60" y="398.65" font-size="4.3" text-anchor="middle" fill="#555" stroke="#555" stroke-width="0.15">31</text>
<circle cx="526.5" cy="374.7" r="3.8" fill="#fafafa" stroke="#222" stroke-width="1.05"/>
<text x="526.50" y="376.25" font-size="4.3" text-anchor="middle" fill="#555" stroke="#555" stroke-width="0.15">29</text>
<circle cx="526.5" cy="397.1" r="3.8" fill="#fafafa" stroke="#222" stroke-width="1.05"/>
<text x="526.50" y="398.65" font-size="4.3" text-anchor="middle" fill="#555" stroke="#555" stroke-width="0.15">32</text>
<circle cx="538.5" cy="374.7" r="3.8" fill="#fafafa" stroke="#222" stroke-width="1.05"/>
<text x="538.50" y="376.25" font-size="4.3" text-anchor="middle" fill="#555" stroke="#555" stroke-width="0.15">30</text>
<circle cx="538.5" cy="397.1" r="3.8" fill="#fafafa" stroke="#222" stroke-width="1.05"/>
<text x="538.50" y="398.65" font-size="4.3" text-anchor="middle" fill="#555" stroke="#555" stroke-width="0.15">33</text>
<circle cx="601.2" cy="396.8" r="3.8" fill="#fafafa" stroke="#222" stroke-width="1.05"/>
<text x="601.20" y="398.35" font-size="4.3" text-anchor="middle" fill="#555" stroke="#555" stroke-width="0.15">34</text>
<circle cx="615.2" cy="396.8" r="3.8" fill="#fafafa" stroke="#222" stroke-width="1.05"/>
<text x="615.20" y="398.35" font-size="4.3" text-anchor="middle" fill="#555" stroke="#555" stroke-width="0.15">35</text>
<circle cx="628.1" cy="396.8" r="3.8" fill="#fafafa" stroke="#222" stroke-width="1.05"/>
<text x="628.10" y="398.35" font-size="4.3" text-anchor="middle" fill="#555" stroke="#555" stroke-width="0.15">36</text>
<rect x="185.3" y="431.6" width="44.3" height="14" fill="#fff" stroke="#6a6fc4" stroke-width="0.9"/>
<ellipse cx="207.4" cy="465.9" rx="33.9" ry="31.2" fill="#fff" stroke="#6a6fc4" stroke-width="0.9"/>
<path fill="#1b4ba5" d="M192.30 479.85L192.30 453.40L199.64 453.40L206.25 468.90L212.86 453.40L220.20 453.40L220.20 479.85L213.62 479.85L213.62 461.20L208.87 473.60L203.63 473.60L198.88 461.20L198.88 479.85Z"/>
<rect x="510.2" y="431.6" width="43.5" height="14" fill="#fff" stroke="#6a6fc4" stroke-width="0.9"/>
<ellipse cx="532.0" cy="465.9" rx="33.9" ry="31.2" fill="#fff" stroke="#6a6fc4" stroke-width="0.9"/>
<path fill="#1b4ba5" d="M516.50 479.85L516.50 453.40L524.47 453.40L531.65 468.90L538.83 453.40L546.80 453.40L546.80 479.85L539.65 479.85L539.65 461.20L534.50 473.60L528.80 473.60L523.65 461.20L523.65 479.85Z"/>
<text x="310.60" y="548.90" font-size="15.33" fill="#000" stroke="#000" stroke-width="0.15" xml:space="preserve">2)</text>
<text x="341.55" y="549.70" font-size="15.9" letter-spacing="-0.47" fill="#000" stroke="#000" stroke-width="0.25">电器连接图</text>
<text x="60.40" y="594.20" font-size="13.3" fill="#222" stroke="#222" stroke-width="0.25" style="font-family:'Liberation Serif','Noto Serif CJK SC',serif">表格</text>
<text x="88.60" y="594.00" font-size="13.3" fill="#000" stroke="#000" stroke-width="0.15" xml:space="preserve">1</text>
<text x="114.70" y="594.50" font-size="13.9" letter-spacing="0.9" fill="#000" stroke="#000" stroke-width="0.25">电器连接引脚列表</text>
<rect x="32.4" y="601.3" width="645.6" height="43.1" fill="#ec8f49"/>
<line x1="32.40" y1="644.40" x2="678.00" y2="644.40" stroke="#111" stroke-width="1.3" />
<line x1="32.40" y1="674.90" x2="678.00" y2="674.90" stroke="#111" stroke-width="1.3" />
<line x1="32.40" y1="702.45" x2="678.00" y2="702.45" stroke="#111" stroke-width="1.3" />
<line x1="32.40" y1="730.00" x2="678.00" y2="730.00" stroke="#111" stroke-width="1.3" />
<line x1="32.40" y1="757.55" x2="678.00" y2="757.55" stroke="#111" stroke-width="1.3" />
<line x1="32.40" y1="785.10" x2="678.00" y2="785.10" stroke="#111" stroke-width="1.3" />
<line x1="32.40" y1="812.65" x2="678.00" y2="812.65" stroke="#111" stroke-width="1.3" />
<line x1="32.40" y1="840.20" x2="678.00" y2="840.20" stroke="#111" stroke-width="1.3" />
<line x1="32.40" y1="867.75" x2="678.00" y2="867.75" stroke="#111" stroke-width="1.3" />
<line x1="32.40" y1="895.30" x2="678.00" y2="895.30" stroke="#111" stroke-width="1.3" />
<line x1="32.40" y1="922.85" x2="678.00" y2="922.85" stroke="#111" stroke-width="1.3" />
<line x1="32.40" y1="950.40" x2="678.00" y2="950.40" stroke="#111" stroke-width="1.3" />
<line x1="32.40" y1="977.95" x2="678.00" y2="977.95" stroke="#111" stroke-width="1.3" />
<line x1="84.50" y1="601.30" x2="84.50" y2="1005.50" stroke="#111" stroke-width="1.3" />
<line x1="178.00" y1="601.30" x2="178.00" y2="1005.50" stroke="#111" stroke-width="1.3" />
<line x1="480.80" y1="601.30" x2="480.80" y2="1005.50" stroke="#111" stroke-width="1.3" />
<line x1="553.40" y1="601.30" x2="553.40" y2="1005.50" stroke="#111" stroke-width="1.3" />
<line x1="615.80" y1="601.30" x2="615.80" y2="1005.50" stroke="#111" stroke-width="1.3" />
<rect x="32.4" y="601.3" width="645.6" height="404.2" fill="none" stroke="#000" stroke-width="2.5"/>
<text x="43.11" y="631.00" font-size="15.33" fill="#000" stroke="#000" stroke-width="0.18" xml:space="preserve">Pin#</text>
<text x="115.58" y="631.70" font-size="15.9" letter-spacing="-0.45" fill="#000" stroke="#000" stroke-width="0.25">名称</text>
<text x="313.72" y="631.70" font-size="15.9" letter-spacing="-0.45" fill="#000" stroke="#000" stroke-width="0.25">功能</text>
<text x="501.43" y="631.70" font-size="15.9" letter-spacing="-0.45" fill="#000" stroke="#000" stroke-width="0.25">颜色</text>
<text x="54.19" y="668.15" font-size="15.33" fill="#000" stroke="#000" stroke-width="0.18" xml:space="preserve">1</text>
<text x="115.70" y="668.15" font-size="15.33" fill="#000" stroke="#000" stroke-width="0.18" xml:space="preserve">DC+</text>
<text x="298.27" y="668.85" font-size="15.9" letter-spacing="-0.45" fill="#000" stroke="#000" stroke-width="0.25">电源正极</text>
<text x="509.15" y="668.85" font-size="15.9" fill="#000" stroke="#000" stroke-width="0.25">红</text>
<text x="54.19" y="695.77" font-size="15.33" fill="#000" stroke="#000" stroke-width="0.18" xml:space="preserve">2</text>
<text x="117.63" y="695.77" font-size="15.33" fill="#000" stroke="#000" stroke-width="0.18" xml:space="preserve">DC-</text>
<text x="298.27" y="696.47" font-size="15.9" letter-spacing="-0.45" fill="#000" stroke="#000" stroke-width="0.25">电源负极</text>
<text x="509.15" y="696.47" font-size="15.9" fill="#000" stroke="#000" stroke-width="0.25">黑</text>
<text x="54.19" y="723.39" font-size="15.33" fill="#000" stroke="#000" stroke-width="0.18" xml:space="preserve">3</text>
<text x="125.71" y="723.39" font-size="15.33" fill="#000" stroke="#000" stroke-width="0.18" xml:space="preserve">U</text>
<text x="280.18" y="723.39" font-size="15.33" fill="#000" stroke="#000" stroke-width="0.18" xml:space="preserve">#1 </text>
<text x="301.27" y="724.09" font-size="15.9" letter-spacing="-0.45" fill="#000" stroke="#000" stroke-width="0.25">电机相线</text>
<text x="363.29" y="723.39" font-size="15.33" fill="#000" stroke="#000" stroke-width="0.18" xml:space="preserve"> U</text>
<text x="509.15" y="724.09" font-size="15.9" fill="#000" stroke="#000" stroke-width="0.25">红</text>
<text x="54.19" y="751.01" font-size="15.33" fill="#000" stroke="#000" stroke-width="0.18" xml:space="preserve">4</text>
<text x="126.14" y="751.01" font-size="15.33" fill="#000" stroke="#000" stroke-width="0.18" xml:space="preserve">V</text>
<text x="280.60" y="751.01" font-size="15.33" fill="#000" stroke="#000" stroke-width="0.18" xml:space="preserve">#1 </text>
<text x="301.69" y="751.71" font-size="15.9" letter-spacing="-0.45" fill="#000" stroke="#000" stroke-width="0.25">电机相线</text>
<text x="363.71" y="751.01" font-size="15.33" fill="#000" stroke="#000" stroke-width="0.18" xml:space="preserve"> V</text>
<text x="509.15" y="751.71" font-size="15.9" fill="#000" stroke="#000" stroke-width="0.25">黄</text>
<text x="54.19" y="778.63" font-size="15.33" fill="#000" stroke="#000" stroke-width="0.18" xml:space="preserve">5</text>
<text x="124.02" y="778.63" font-size="15.33" fill="#000" stroke="#000" stroke-width="0.18" xml:space="preserve">W</text>
<text x="278.48" y="778.63" font-size="15.33" fill="#000" stroke="#000" stroke-width="0.18" xml:space="preserve">#1 </text>
<text x="299.57" y="779.33" font-size="15.9" letter-spacing="-0.45" fill="#000" stroke="#000" stroke-width="0.25">电机相线</text>
<text x="361.59" y="778.63" font-size="15.33" fill="#000" stroke="#000" stroke-width="0.18" xml:space="preserve"> W</text>
<text x="509.15" y="779.33" font-size="15.9" fill="#000" stroke="#000" stroke-width="0.25">黑</text>
<text x="49.92" y="806.25" font-size="15.33" fill="#000" stroke="#000" stroke-width="0.18" xml:space="preserve">6a</text>
<text x="121.87" y="806.25" font-size="15.33" fill="#000" stroke="#000" stroke-width="0.18" xml:space="preserve">5V</text>
<text x="275.10" y="806.95" font-size="15.9" letter-spacing="-0.45" fill="#000" stroke="#000" stroke-width="0.25">传感器电源正极</text>
<text x="509.15" y="806.95" font-size="15.9" fill="#000" stroke="#000" stroke-width="0.25">红</text>
<text x="49.92" y="833.87" font-size="15.33" fill="#000" stroke="#000" stroke-width="0.18" xml:space="preserve">7a</text>
<text x="110.38" y="833.87" font-size="15.33" fill="#000" stroke="#000" stroke-width="0.18" xml:space="preserve">HA(A)</text>
<text x="270.75" y="833.87" font-size="15.33" fill="#000" stroke="#000" stroke-width="0.18" xml:space="preserve">#1 </text>
<text x="291.83" y="834.57" font-size="15.9" letter-spacing="-0.45" fill="#000" stroke="#000" stroke-width="0.25">电机霍尔</text>
<text x="353.86" y="833.87" font-size="15.33" fill="#000" stroke="#000" stroke-width="0.18" xml:space="preserve"> A </text>
<text x="372.38" y="834.57" font-size="15.9" fill="#000" stroke="#000" stroke-width="0.25">相</text>
<text x="509.15" y="834.57" font-size="15.9" fill="#000" stroke="#000" stroke-width="0.25">蓝</text>
<text x="49.92" y="861.49" font-size="15.33" fill="#000" stroke="#000" stroke-width="0.18" xml:space="preserve">8a</text>
<text x="110.38" y="861.49" font-size="15.33" fill="#000" stroke="#000" stroke-width="0.18" xml:space="preserve">HB(B)</text>
<text x="270.75" y="861.49" font-size="15.33" fill="#000" stroke="#000" stroke-width="0.18" xml:space="preserve">#1 </text>
<text x="291.83" y="862.19" font-size="15.9" letter-spacing="-0.45" fill="#000" stroke="#000" stroke-width="0.25">电机霍尔</text>
<text x="353.86" y="861.49" font-size="15.33" fill="#000" stroke="#000" stroke-width="0.18" xml:space="preserve"> B </text>
<text x="372.38" y="862.19" font-size="15.9" fill="#000" stroke="#000" stroke-width="0.25">相</text>
<text x="509.15" y="862.19" font-size="15.9" fill="#000" stroke="#000" stroke-width="0.25">绿</text>
<text x="49.92" y="889.11" font-size="15.33" fill="#000" stroke="#000" stroke-width="0.18" xml:space="preserve">9a</text>
<text x="110.39" y="889.11" font-size="15.33" fill="#000" stroke="#000" stroke-width="0.18" xml:space="preserve">HC(Z)</text>
<text x="270.33" y="889.11" font-size="15.33" fill="#000" stroke="#000" stroke-width="0.18" xml:space="preserve">#1 </text>
<text x="291.41" y="889.81" font-size="15.9" letter-spacing="-0.45" fill="#000" stroke="#000" stroke-width="0.25">电机霍尔</text>
<text x="353.44" y="889.11" font-size="15.33" fill="#000" stroke="#000" stroke-width="0.18" xml:space="preserve"> C </text>
<text x="372.80" y="889.81" font-size="15.9" fill="#000" stroke="#000" stroke-width="0.25">相</text>
<text x="509.15" y="889.81" font-size="15.9" fill="#000" stroke="#000" stroke-width="0.25">白</text>
<text x="45.66" y="916.73" font-size="15.33" fill="#000" stroke="#000" stroke-width="0.18" xml:space="preserve">10a</text>
<text x="114.22" y="916.73" font-size="15.33" fill="#000" stroke="#000" stroke-width="0.18" xml:space="preserve">GND</text>
<text x="282.82" y="917.43" font-size="15.9" letter-spacing="-0.45" fill="#000" stroke="#000" stroke-width="0.25">传感器电源地</text>
<text x="509.15" y="917.43" font-size="15.9" fill="#000" stroke="#000" stroke-width="0.25">黑</text>
<text x="49.92" y="944.35" font-size="15.33" fill="#000" stroke="#000" stroke-width="0.18" xml:space="preserve">6b</text>
<text x="121.87" y="944.35" font-size="15.33" fill="#000" stroke="#000" stroke-width="0.18" xml:space="preserve">5V</text>
<text x="275.10" y="945.05" font-size="15.9" letter-spacing="-0.45" fill="#000" stroke="#000" stroke-width="0.25">传感器电源正极</text>
<text x="509.15" y="945.05" font-size="15.9" fill="#000" stroke="#000" stroke-width="0.25">红</text>
<text x="49.92" y="971.97" font-size="15.33" fill="#000" stroke="#000" stroke-width="0.18" xml:space="preserve">7b</text>
<text x="126.14" y="971.97" font-size="15.33" fill="#000" stroke="#000" stroke-width="0.18" xml:space="preserve">A</text>
<text x="249.70" y="971.97" font-size="15.33" fill="#000" stroke="#000" stroke-width="0.18" xml:space="preserve">#1 </text>
<text x="270.79" y="972.67" font-size="15.9" letter-spacing="-0.45" fill="#000" stroke="#000" stroke-width="0.25">电机接编码传感器</text>
<text x="394.61" y="971.97" font-size="15.33" fill="#000" stroke="#000" stroke-width="0.18" xml:space="preserve"> A</text>
<text x="509.15" y="972.67" font-size="15.9" fill="#000" stroke="#000" stroke-width="0.25">蓝</text>
<text x="49.92" y="999.59" font-size="15.33" fill="#000" stroke="#000" stroke-width="0.18" xml:space="preserve">8b</text>
<text x="126.14" y="999.59" font-size="15.33" fill="#000" stroke="#000" stroke-width="0.18" xml:space="preserve">B</text>
<text x="249.70" y="999.59" font-size="15.33" fill="#000" stroke="#000" stroke-width="0.18" xml:space="preserve">#1 </text>
<text x="270.79" y="1000.29" font-size="15.9" letter-spacing="-0.45" fill="#000" stroke="#000" stroke-width="0.25">电机接编码传感器</text>
<text x="394.61" y="999.59" font-size="15.33" fill="#000" stroke="#000" stroke-width="0.18" xml:space="preserve"> B</text>
<text x="509.15" y="1000.29" font-size="15.9" fill="#000" stroke="#000" stroke-width="0.25">绿</text>
</svg>
</body></html>
